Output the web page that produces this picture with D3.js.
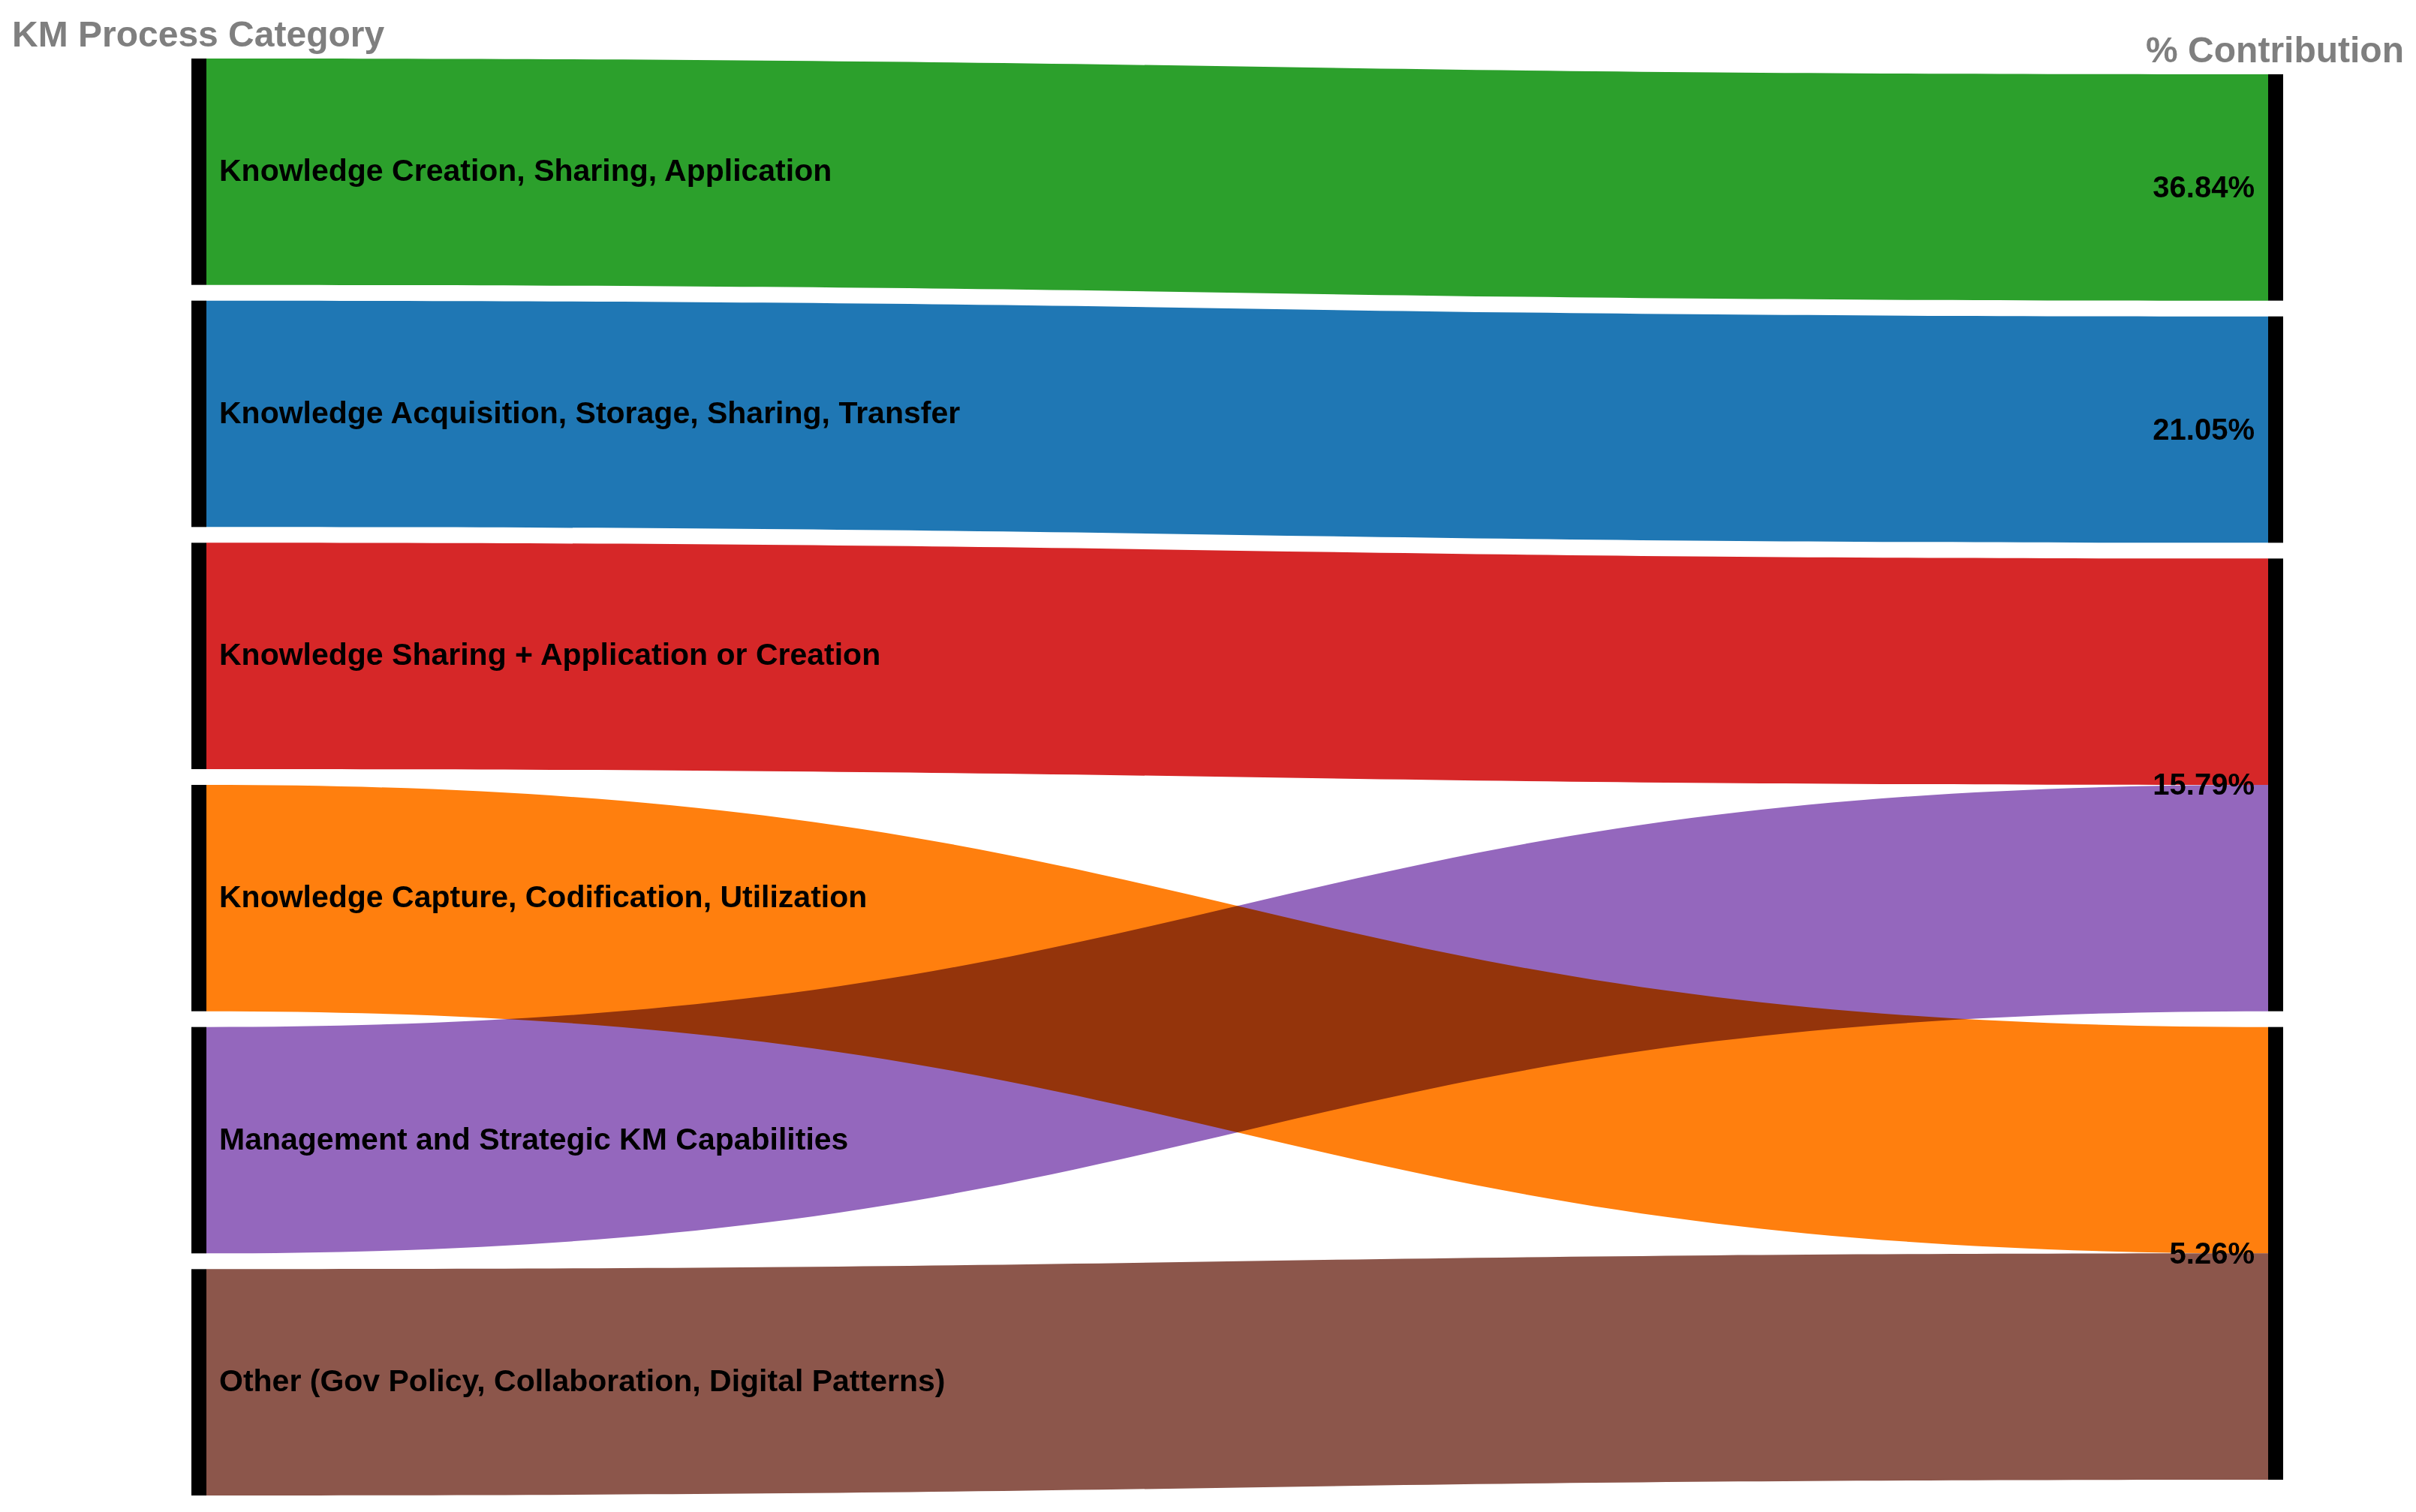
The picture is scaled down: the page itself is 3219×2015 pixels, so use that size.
<!DOCTYPE html>
<html>
<head>
<meta charset="utf-8">
<script src="https://cdn.jsdelivr.net/npm/d3@7"></script>
<style>
  html, body { margin: 0; padding: 0; background: #fff; }
  svg { display: block; font-family: "Liberation Sans", Arial, sans-serif; }
</style>
</head>
<body>
<div id="chart"></div>
<script>
var categories = [
  "Knowledge Creation, Sharing, Application",
  "Knowledge Acquisition, Storage, Sharing, Transfer",
  "Knowledge Sharing + Application or Creation",
  "Knowledge Capture, Codification, Utilization",
  "Management and Strategic KM Capabilities",
  "Other (Gov Policy, Collaboration, Digital Patterns)"
];
var contributions = ["36.84%", "21.05%", "15.79%", "5.26%", "15.79%", "5.26%"];
var flowValues = [1, 1, 1, 1, 1, 1];
var headers = ["KM Process Category", "% Contribution"];

document.addEventListener("DOMContentLoaded", function () {
  drawSankey("#chart");
});

function drawSankey(sel) {
  var width = 3219, height = 2015;
  var nodeW = 20, pad = 21;
  var top = 78, bottom = 1993;

  var color = d3.scaleOrdinal()
      .domain(categories)
      .range(["#2ca02c", "#1f77b4", "#d62728", "#ff7f0e", "#9467bd", "#8c564b"]);

  var x = d3.scalePoint()
      .domain(["source", "target"])
      .range([255, 3022]);

  // left column: one node per category
  var leftNodes = categories.map(function (c, i) {
    return {name: c, value: flowValues[i], col: "source"};
  });
  // right column: one node per distinct contribution
  var rightNames = Array.from(new Set(contributions));
  var rightNodes = rightNames.map(function (r) {
    return {name: r, col: "target",
            value: d3.sum(contributions.map(function (c, i) { return c === r ? flowValues[i] : 0; }))};
  });

  var columns = [leftNodes, rightNodes];
  var total = d3.sum(flowValues);
  var maxN = d3.max(columns, function (c) { return c.length; });
  var size = d3.scaleLinear()
      .domain([0, total])
      .range([0, (bottom - top) - (maxN - 1) * pad]);

  columns.forEach(function (nodes) {
    var h = size(total) + (nodes.length - 1) * pad;
    var y = top + ((bottom - top) - h) / 2;
    nodes.forEach(function (n) {
      n.y0 = y;
      n.y1 = y + size(n.value);
      n.fill = n.y0;
      y = n.y1 + pad;
    });
  });

  var links = categories.map(function (c, i) {
    var s = leftNodes[i];
    var t = rightNodes[rightNames.indexOf(contributions[i])];
    var w = size(flowValues[i]);
    var l = {name: c, s0: s.fill, t0: t.fill, w: w};
    s.fill += w;
    t.fill += w;
    return l;
  });

  function ribbon(d) {
    var x0 = x("source") + nodeW, x1 = x("target"), xm = (x0 + x1) / 2;
    var p = d3.path();
    p.moveTo(x0, d.s0);
    p.bezierCurveTo(xm, d.s0, xm, d.t0, x1, d.t0);
    p.lineTo(x1, d.t0 + d.w);
    p.bezierCurveTo(xm, d.t0 + d.w, xm, d.s0 + d.w, x0, d.s0 + d.w);
    p.closePath();
    return p.toString();
  }

  var svg = d3.select(sel).append("svg")
      .attr("width", width)
      .attr("height", height)
      .attr("viewBox", "0 0 " + width + " " + height);

  svg.append("rect")
    .attr("width", width)
    .attr("height", height)
    .attr("fill", "#fff");

  svg.append("g")
    .selectAll("path")
    .data(links)
    .enter().append("path")
    .attr("d", ribbon)
    .attr("fill", function (d) { return color(d.name); })
    .style("mix-blend-mode", "multiply");

  svg.append("g")
    .selectAll("rect")
    .data(leftNodes.concat(rightNodes))
    .enter().append("rect")
    .attr("x", function (d) { return x(d.col); })
    .attr("y", function (d) { return d.y0; })
    .attr("width", nodeW)
    .attr("height", function (d) { return d.y1 - d.y0; })
    .attr("fill", "#000");

  svg.append("g")
    .selectAll("text")
    .data(leftNodes)
    .enter().append("text")
    .attr("x", x("source") + nodeW + 17)
    .attr("y", function (d) { return (d.y0 + d.y1) / 2; })
    .attr("dy", "0.3em")
    .style("font-size", "41px")
    .style("font-weight", "bold")
    .attr("fill", "#000")
    .text(function (d) { return d.name; });

  svg.append("g")
    .selectAll("text")
    .data(rightNodes)
    .enter().append("text")
    .attr("x", x("target") - 18)
    .attr("y", function (d) { return (d.y0 + d.y1) / 2; })
    .attr("dy", "0.33em")
    .attr("text-anchor", "end")
    .style("font-size", "40px")
    .style("font-weight", "bold")
    .attr("fill", "#000")
    .text(function (d) { return d.name; });

  svg.append("text")
    .attr("x", 16)
    .attr("y", 62)
    .style("font-size", "48px")
    .style("font-weight", "bold")
    .attr("fill", "#7f7f7f")
    .text(headers[0]);

  svg.append("text")
    .attr("x", 3203)
    .attr("y", 83)
    .attr("text-anchor", "end")
    .style("font-size", "48px")
    .style("font-weight", "bold")
    .attr("fill", "#7f7f7f")
    .text(headers[1]);
}
</script>
</body>
</html>
